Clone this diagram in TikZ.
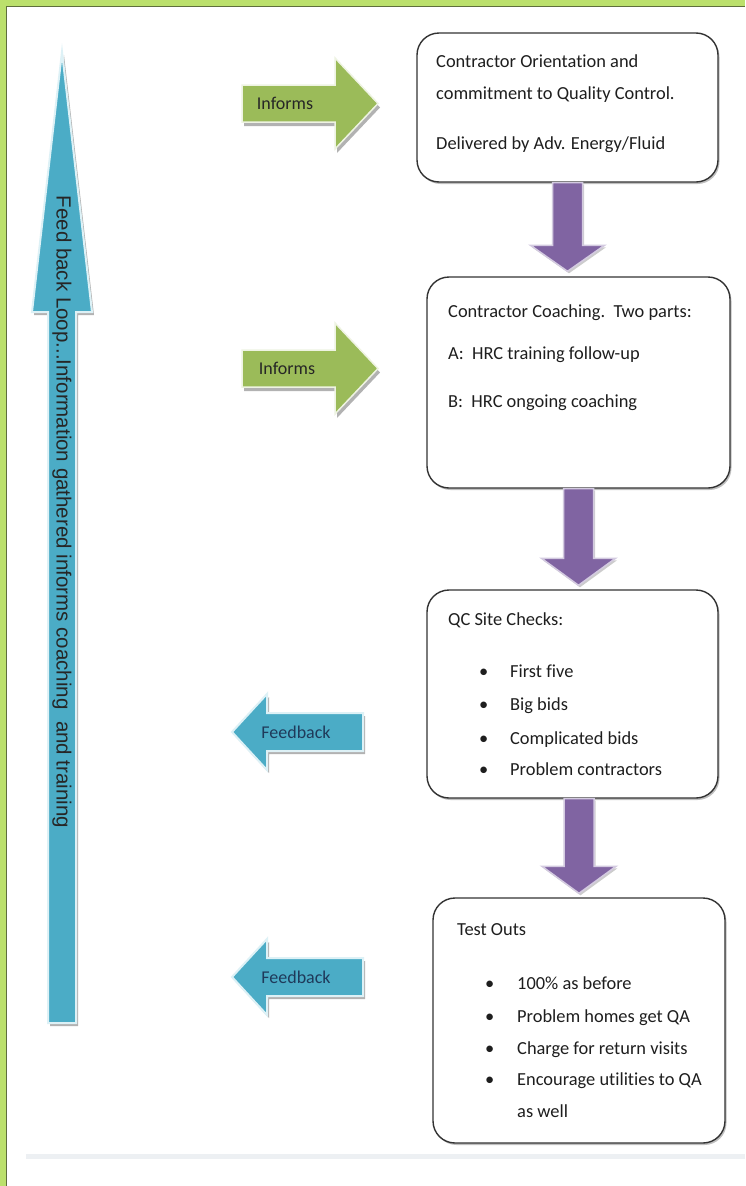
\documentclass[tikz,border=0pt]{standalone}
\usepackage{fontspec}
\setmainfont[Ligatures=NoCommon]{Carlito}
\newfontfamily\arialfont{Liberation Sans}
\usetikzlibrary{calc,shadows}
\definecolor{pagegreen}{HTML}{BBE06C}
\definecolor{frameline}{HTML}{5E6E3C}
\definecolor{fbblue}{HTML}{4BACC6}
\definecolor{fbblueedge}{HTML}{DDF1F6}
\definecolor{infgreen}{HTML}{9BBB59}
\definecolor{infgreenedge}{HTML}{EEF3E2}
\definecolor{flowpurple}{HTML}{8064A2}
\definecolor{flowpurpleedge}{HTML}{D3CAE0}
\definecolor{boxline}{HTML}{333333}
\definecolor{boxtext}{HTML}{1E1E1E}
\definecolor{navytext}{HTML}{1F3A5A}
\definecolor{sepgray}{HTML}{EDF0F3}
\begin{document}
\begin{tikzpicture}[x=1pt,y=-1pt,
  stagebox/.style={draw=boxline, line width=1.4pt, rounded corners=22pt, fill=white, inner sep=0pt,
    drop shadow={shadow xshift=1.5pt, shadow yshift=-2pt, fill=black, opacity=0.25}},
  boxtxt/.style={anchor=mid west, inner sep=0pt, text=boxtext, font=\fontsize{18.4}{22}\selectfont},
  flowarrow/.style={fill=flowpurple, draw=flowpurpleedge, line width=1.5pt,
    drop shadow={shadow xshift=1.5pt, shadow yshift=-2pt, fill=black, opacity=0.2}},
  informarrow/.style={fill=infgreen, draw=infgreenedge, line width=1.5pt,
    drop shadow={shadow xshift=2pt, shadow yshift=-4pt, fill=black, opacity=0.3}},
  feedarrow/.style={fill=fbblue, draw=fbblueedge, line width=2pt,
    drop shadow={shadow xshift=2pt, shadow yshift=-3pt, fill=black, opacity=0.3}},
  arrowlabel/.style={inner sep=0pt, font=\fontsize{18}{22}\selectfont},
]
\useasboundingbox (0,0) rectangle (745,1186);
\fill[white] (0,0) rectangle (745,1186);
% page frame
\fill[pagegreen] (0,0) rectangle (745,6);
\fill[pagegreen] (0,0) rectangle (6,1186);
\draw[frameline, line width=1.2pt] (6.6,1186) -- (6.6,6.6) -- (745,6.6);
% separator
\fill[sepgray] (26,1154) rectangle (745,1159);

% big feedback loop arrow
\path[feedarrow] (48,1023) -- (48,312) -- (32,312) -- (62,52) -- (92,312) -- (76,312) -- (76,1023) -- cycle;
\node[rotate=-90, inner sep=0pt, text=black!85,
      font=\arialfont\fontsize{20.5}{22}\selectfont] (loop) at (62,512)
  {Feed back Loop...Information gathered informs coaching\ \ and training};

% boxes
\node[stagebox, minimum width=301pt, minimum height=149pt] (b1) at (567.5,107.5) {};
\node[stagebox, minimum width=303pt, minimum height=211pt] (b2) at (578.5,382.5) {};
\node[stagebox, minimum width=291pt, minimum height=208pt] (b3) at (572.5,694) {};
\node[stagebox, minimum width=292pt, minimum height=245pt] (b4) at (579,1020.5) {};

% purple flow arrows
\path[flowarrow] let \p1=(b1.south), \p2=(b2.north) in
  (\x1-15pt,\y1) -- (\x1-15pt,\y2+31pt) -- (\x1-37pt,\y2+31pt) -- (\x1,\y2+5pt)
  -- (\x1+37pt,\y2+31pt) -- (\x1+15pt,\y2+31pt) -- (\x1+15pt,\y1) -- cycle;
\path[flowarrow] let \p1=(b2.south), \p2=(b3.north) in
  (\x1-15pt,\y1) -- (\x1-15pt,\y2+31pt) -- (\x1-37pt,\y2+31pt) -- (\x1,\y2+4pt)
  -- (\x1+37pt,\y2+31pt) -- (\x1+15pt,\y2+31pt) -- (\x1+15pt,\y1) -- cycle;
\path[flowarrow] let \p1=(b3.south -| b4.north), \p2=(b4.north) in
  (\x1-15pt,\y1) -- (\x1-15pt,\y2+31pt) -- (\x1-37pt,\y2+31pt) -- (\x1,\y2+4pt)
  -- (\x1+37pt,\y2+31pt) -- (\x1+15pt,\y2+31pt) -- (\x1+15pt,\y1) -- cycle;

% informs arrows
\path[informarrow] (242,85) -- (335,85) -- (335,58) -- (378,103.5) -- (335,149) -- (335,122) -- (242,122) -- cycle;
\node[arrowlabel, text=black!85] (i1) at (285,103) {Informs};
\path[informarrow] (242,350) -- (335,350) -- (335,323) -- (378,368.5) -- (335,414) -- (335,387) -- (242,387) -- cycle;
\node[arrowlabel, text=black!85] (i2) at (287,368) {Informs};

% feedback arrows
\path[feedarrow] (363,713) -- (267,713) -- (267,694) -- (232,732) -- (267,770) -- (267,751) -- (363,751) -- cycle;
\node[arrowlabel, text=navytext] (f1) at (296,732) {Feedback};
\path[feedarrow] (363,958) -- (267,958) -- (267,939) -- (232,977) -- (267,1015) -- (267,996) -- (363,996) -- cycle;
\node[arrowlabel, text=navytext] (f2) at (296,977) {Feedback};

% box texts
\node[boxtxt] (b1l1) at (436,65) {Contractor Orientation and};
\node[boxtxt] (b1l2) at (436,97) {commitment to Quality Control.};
\node[boxtxt] (b1l3) at (436,147) {Delivered by Adv. Energy/Fluid};

\node[boxtxt] (b2l1) at (448,315) {Contractor Coaching.\ \ Two parts:};
\node[boxtxt] (b2l2) at (448,357) {A:\ \ HRC training follow-up};
\node[boxtxt] (b2l3) at (448,405) {B:\ \ HRC ongoing coaching};

\node[boxtxt] (b3l0) at (448,623) {QC Site Checks:};
\node[boxtxt] (b3l1) at (479,675) {\makebox[31pt][l]{\textbullet}First five};
\node[boxtxt] (b3l2) at (479,708) {\makebox[31pt][l]{\textbullet}Big bids};
\node[boxtxt] (b3l3) at (479,742) {\makebox[31pt][l]{\textbullet}Complicated bids};
\node[boxtxt] (b3l4) at (479,773) {\makebox[31pt][l]{\textbullet}Problem contractors};

\node[boxtxt] (b4l0) at (457,933) {Test Outs};
\node[boxtxt] (b4l1) at (485,987) {\makebox[32pt][l]{\textbullet}100\% as before};
\node[boxtxt] (b4l2) at (485,1020) {\makebox[32pt][l]{\textbullet}Problem homes get QA};
\node[boxtxt] (b4l3) at (485,1052) {\makebox[32pt][l]{\textbullet}Charge for return visits};
\node[boxtxt] (b4l4) at (485,1083) {\makebox[32pt][l]{\textbullet}Encourage utilities to QA};
\node[boxtxt] (b4l5) at (517,1115) {as well};
\end{tikzpicture}
\end{document}
